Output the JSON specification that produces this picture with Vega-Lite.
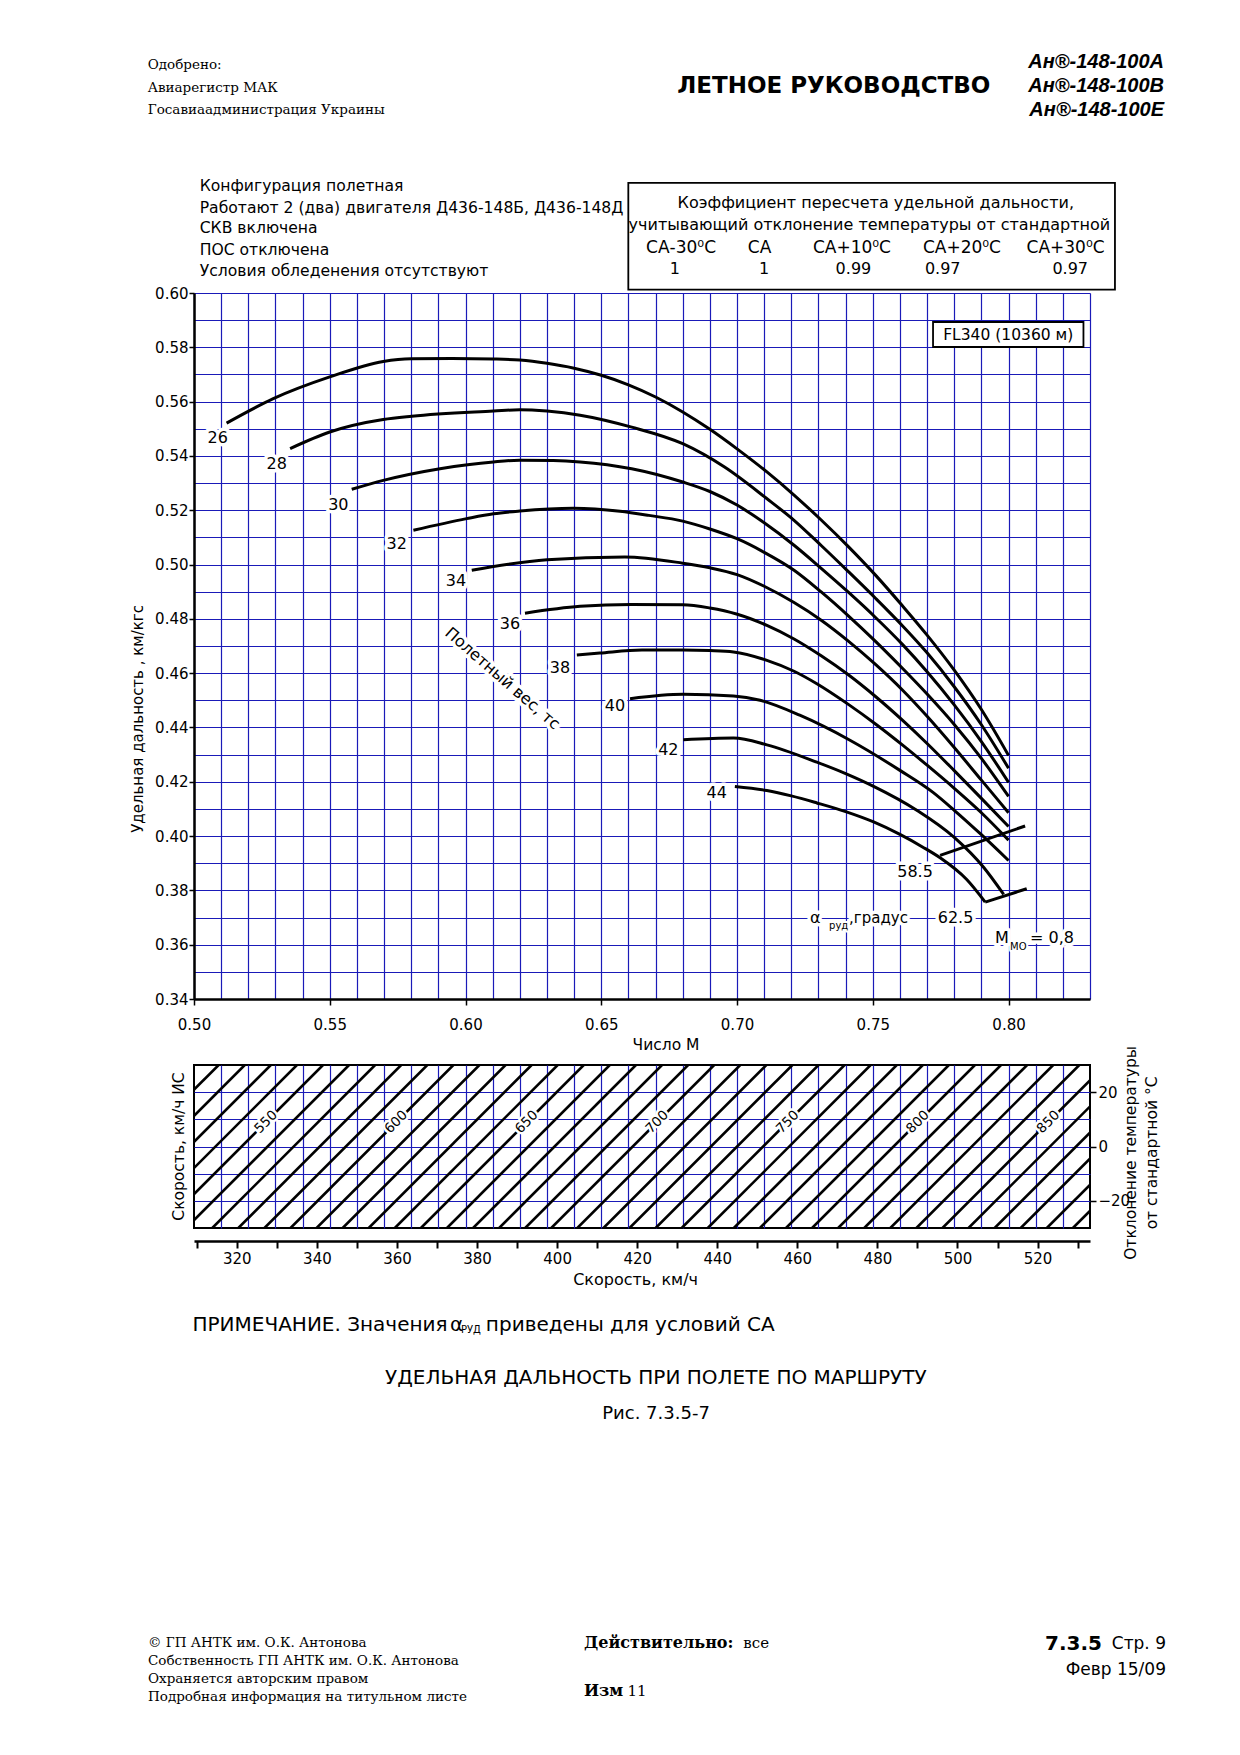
{
"$schema": "https://vega.github.io/schema/vega-lite/v6.json",
"background": "white",
"padding": {"left": 131, "top": 52, "right": 74, "bottom": 50},
"config": {"font": "DejaVu Sans", "view": {"stroke": null}, "axis": {"labelFont": "DejaVu Sans", "labelColor": "black", "domainColor": "black", "tickColor": "black", "gridColor": "#1a1ab8"}},
"spacing": 66,
"bounds": "flush",
"vconcat": [
{
"width": 896, "height": 706,
"layer": [
{
"data": {"values": [
{"w":26,"M":0.512,"v":0.5521},{"w":26,"M":0.5292,"v":0.5611},{"w":26,"M":0.55,"v":0.5691},{"w":26,"M":0.5697,"v":0.5748},{"w":26,"M":0.58,"v":0.5758},{"w":26,"M":0.595,"v":0.5759},{"w":26,"M":0.6103,"v":0.5757},{"w":26,"M":0.62,"v":0.5753},{"w":26,"M":0.63,"v":0.5741},{"w":26,"M":0.64,"v":0.5723},{"w":26,"M":0.65,"v":0.5697},{"w":26,"M":0.66,"v":0.5662},{"w":26,"M":0.67,"v":0.5617},{"w":26,"M":0.68,"v":0.5562},{"w":26,"M":0.69,"v":0.5498},{"w":26,"M":0.7,"v":0.5426},{"w":26,"M":0.711,"v":0.5341},{"w":26,"M":0.721,"v":0.5256},{"w":26,"M":0.731,"v":0.5164},{"w":26,"M":0.741,"v":0.5066},{"w":26,"M":0.751,"v":0.4961},{"w":26,"M":0.761,"v":0.4847},{"w":26,"M":0.77,"v":0.474},{"w":26,"M":0.78,"v":0.4611},{"w":26,"M":0.79,"v":0.4466},{"w":26,"M":0.8,"v":0.4297},
{"w":28,"M":0.5354,"v":0.5427},{"w":28,"M":0.55,"v":0.5488},{"w":28,"M":0.5697,"v":0.5534},{"w":28,"M":0.5802,"v":0.5546},{"w":28,"M":0.6103,"v":0.5565},{"w":28,"M":0.62,"v":0.557},{"w":28,"M":0.63,"v":0.5565},{"w":28,"M":0.6422,"v":0.555},{"w":28,"M":0.6612,"v":0.5506},{"w":28,"M":0.68,"v":0.5445},{"w":28,"M":0.6954,"v":0.5359},{"w":28,"M":0.7107,"v":0.5245},{"w":28,"M":0.721,"v":0.5163},{"w":28,"M":0.731,"v":0.507},{"w":28,"M":0.741,"v":0.4974},{"w":28,"M":0.751,"v":0.4876},{"w":28,"M":0.761,"v":0.4774},{"w":28,"M":0.77,"v":0.4675},{"w":28,"M":0.78,"v":0.455},{"w":28,"M":0.79,"v":0.441},{"w":28,"M":0.8,"v":0.425},
{"w":30,"M":0.5581,"v":0.5277},{"w":30,"M":0.5697,"v":0.531},{"w":30,"M":0.5906,"v":0.5353},{"w":30,"M":0.6103,"v":0.5378},{"w":30,"M":0.62,"v":0.5384},{"w":30,"M":0.6323,"v":0.5383},{"w":30,"M":0.6422,"v":0.5378},{"w":30,"M":0.6612,"v":0.5353},{"w":30,"M":0.68,"v":0.5304},{"w":30,"M":0.69,"v":0.5269},{"w":30,"M":0.7,"v":0.5219},{"w":30,"M":0.71,"v":0.5154},{"w":30,"M":0.721,"v":0.5071},{"w":30,"M":0.731,"v":0.4986},{"w":30,"M":0.741,"v":0.4898},{"w":30,"M":0.751,"v":0.4805},{"w":30,"M":0.761,"v":0.4705},{"w":30,"M":0.77,"v":0.4605},{"w":30,"M":0.78,"v":0.4483},{"w":30,"M":0.79,"v":0.4348},{"w":30,"M":0.8,"v":0.4198},
{"w":32,"M":0.5808,"v":0.5126},{"w":32,"M":0.6004,"v":0.5169},{"w":32,"M":0.6103,"v":0.5187},{"w":32,"M":0.62,"v":0.5197},{"w":32,"M":0.6397,"v":0.5207},{"w":32,"M":0.6569,"v":0.5196},{"w":32,"M":0.6675,"v":0.5181},{"w":32,"M":0.68,"v":0.516},{"w":32,"M":0.69,"v":0.5131},{"w":32,"M":0.7,"v":0.5095},{"w":32,"M":0.71,"v":0.5045},{"w":32,"M":0.721,"v":0.4979},{"w":32,"M":0.731,"v":0.4899},{"w":32,"M":0.741,"v":0.4811},{"w":32,"M":0.751,"v":0.4717},{"w":32,"M":0.761,"v":0.4617},{"w":32,"M":0.77,"v":0.4523},{"w":32,"M":0.78,"v":0.4411},{"w":32,"M":0.79,"v":0.4286},{"w":32,"M":0.8,"v":0.4146},
{"w":34,"M":0.6023,"v":0.4979},{"w":34,"M":0.63,"v":0.5018},{"w":34,"M":0.6587,"v":0.5028},{"w":34,"M":0.68,"v":0.5005},{"w":34,"M":0.69,"v":0.4988},{"w":34,"M":0.7,"v":0.4963},{"w":34,"M":0.71,"v":0.492},{"w":34,"M":0.721,"v":0.486},{"w":34,"M":0.731,"v":0.4795},{"w":34,"M":0.741,"v":0.4718},{"w":34,"M":0.751,"v":0.4632},{"w":34,"M":0.761,"v":0.4537},{"w":34,"M":0.77,"v":0.4441},{"w":34,"M":0.78,"v":0.4326},{"w":34,"M":0.79,"v":0.4206},{"w":34,"M":0.8,"v":0.4086},
{"w":36,"M":0.6219,"v":0.4821},{"w":36,"M":0.6422,"v":0.4846},{"w":36,"M":0.661,"v":0.4853},{"w":36,"M":0.68,"v":0.4852},{"w":36,"M":0.69,"v":0.484},{"w":36,"M":0.6998,"v":0.4818},{"w":36,"M":0.711,"v":0.4776},{"w":36,"M":0.721,"v":0.4726},{"w":36,"M":0.731,"v":0.4664},{"w":36,"M":0.741,"v":0.4594},{"w":36,"M":0.751,"v":0.4514},{"w":36,"M":0.761,"v":0.4426},{"w":36,"M":0.77,"v":0.4341},{"w":36,"M":0.78,"v":0.4241},{"w":36,"M":0.79,"v":0.4139},{"w":36,"M":0.8,"v":0.4035},
{"w":38,"M":0.641,"v":0.4667},{"w":38,"M":0.6495,"v":0.4674},{"w":38,"M":0.665,"v":0.4685},{"w":38,"M":0.68,"v":0.4685},{"w":38,"M":0.69,"v":0.4683},{"w":38,"M":0.6987,"v":0.4678},{"w":38,"M":0.711,"v":0.4647},{"w":38,"M":0.721,"v":0.4607},{"w":38,"M":0.7294,"v":0.4561},{"w":38,"M":0.741,"v":0.4485},{"w":38,"M":0.751,"v":0.4413},{"w":38,"M":0.761,"v":0.4335},{"w":38,"M":0.77,"v":0.4261},{"w":38,"M":0.78,"v":0.4176},{"w":38,"M":0.79,"v":0.4086},{"w":38,"M":0.8,"v":0.3985},
{"w":40,"M":0.6606,"v":0.4506},{"w":40,"M":0.6802,"v":0.4522},{"w":40,"M":0.6987,"v":0.4516},{"w":40,"M":0.7085,"v":0.45},{"w":40,"M":0.7231,"v":0.4445},{"w":40,"M":0.7416,"v":0.4353},{"w":40,"M":0.76,"v":0.4242},{"w":40,"M":0.7723,"v":0.416},{"w":40,"M":0.78,"v":0.4095},{"w":40,"M":0.79,"v":0.4005},{"w":40,"M":0.8,"v":0.391},
{"w":42,"M":0.6802,"v":0.4355},{"w":42,"M":0.6987,"v":0.4361},{"w":42,"M":0.711,"v":0.4336},{"w":42,"M":0.7294,"v":0.4272},{"w":42,"M":0.74,"v":0.423},{"w":42,"M":0.7503,"v":0.4183},{"w":42,"M":0.7662,"v":0.4095},{"w":42,"M":0.78,"v":0.3995},{"w":42,"M":0.7908,"v":0.3885},{"w":42,"M":0.7982,"v":0.3785},
{"w":44,"M":0.6992,"v":0.4183},{"w":44,"M":0.711,"v":0.4168},{"w":44,"M":0.72,"v":0.4148},{"w":44,"M":0.7294,"v":0.4122},{"w":44,"M":0.74,"v":0.409},{"w":44,"M":0.7503,"v":0.4052},{"w":44,"M":0.76,"v":0.4006},{"w":44,"M":0.7683,"v":0.396},{"w":44,"M":0.7748,"v":0.392},{"w":44,"M":0.7846,"v":0.384},{"w":44,"M":0.7914,"v":0.3757}
]},
"mark": {"type": "line", "color": "black", "strokeWidth": 3, "interpolate": "monotone"},
"encoding": {
"x": {"field": "M", "type": "quantitative", "scale": {"domain": [0.5, 0.83], "nice": false, "zero": false},
 "axis": {"values": [0.5,0.51,0.52,0.53,0.54,0.55,0.56,0.57,0.58,0.59,0.6,0.61,0.62,0.63,0.64,0.65,0.66,0.67,0.68,0.69,0.7,0.71,0.72,0.73,0.74,0.75,0.76,0.77,0.78,0.79,0.8,0.81,0.82,0.83], "tickCount": 100,
 "labelExpr": "abs(datum.value*20 - round(datum.value*20)) < 0.001 ? format(datum.value, '.2f') : ''",
 "grid": true, "gridColor": "#1a1ab8", "gridWidth": 1.2,
 "tickOpacity": {"condition": {"test": "abs(datum.value*20 - round(datum.value*20)) < 0.001", "value": 1}, "value": 0},
 "tickSize": 6, "tickWidth": 1.5, "domainWidth": 2.5, "labelFontSize": 15, "labelPadding": 12, "labelFlush": false, "labelOverlap": false, "title": null}},
"y": {"field": "v", "type": "quantitative", "scale": {"domain": [0.34, 0.6], "nice": false, "zero": false},
 "axis": {"values": [0.34,0.35,0.36,0.37,0.38,0.39,0.4,0.41,0.42,0.43,0.44,0.45,0.46,0.47,0.48,0.49,0.5,0.51,0.52,0.53,0.54,0.55,0.56,0.57,0.58,0.59,0.6], "tickCount": 100,
 "labelExpr": "abs(datum.value*50 - round(datum.value*50)) < 0.001 ? format(datum.value, '.2f') : ''",
 "grid": true, "gridColor": "#1a1ab8", "gridWidth": 1.2,
 "tickOpacity": {"condition": {"test": "abs(datum.value*50 - round(datum.value*50)) < 0.001", "value": 1}, "value": 0},
 "tickSize": 5, "tickWidth": 1.5, "domainWidth": 2.5, "labelFontSize": 15, "labelPadding": 1, "labelFlush": false, "labelOverlap": false, "title": null}},
"detail": {"field": "w", "type": "nominal"}
}
},
{
"mark": {"type": "rule", "color": "black", "strokeWidth": 3},
"encoding": {
"x": {"datum": 0.8, "type": "quantitative", "scale": {"domain": [0.5, 0.83], "nice": false, "zero": false}},
"y": {"datum": 0.4401, "type": "quantitative", "scale": {"domain": [0.34, 0.6], "nice": false, "zero": false}},
"y2": {"datum": 0.37}
}
},
{
"data": {"values": [{"a":"58.5","M1":0.7748,"v1":0.3929,"M2":0.8061,"v2":0.4037},{"a":"62.5","M1":0.7914,"v1":0.3757,"M2":0.8067,"v2":0.3806}]},
"mark": {"type": "rule", "color": "black", "strokeWidth": 3},
"encoding": {
"x": {"field": "M1", "type": "quantitative", "scale": {"domain": [0.5, 0.83], "nice": false, "zero": false}},
"y": {"field": "v1", "type": "quantitative", "scale": {"domain": [0.34, 0.6], "nice": false, "zero": false}},
"x2": {"field": "M2"}, "y2": {"field": "v2"}
}
},
{
"data": {"values": [{"box":"coefficients","M1":0.65996,"M2":0.83919,"v1":0.64052,"v2":0.60125},{"box":"FL340","M1":0.77219,"M2":0.82759,"v1":0.58932,"v2":0.58011}]},
"mark": {"type": "rect", "fill": "white", "stroke": "black", "strokeWidth": 1.8},
"encoding": {
"x": {"field": "M1", "type": "quantitative", "scale": {"domain": [0.5, 0.83], "nice": false, "zero": false}},
"x2": {"field": "M2"},
"y": {"field": "v1", "type": "quantitative", "scale": {"domain": [0.34, 0.6], "nice": false, "zero": false}},
"y2": {"field": "v2"}
}
},
{
"data": {"values": [{"t":"26","M":0.50873,"v":0.54659},{"t":"28","M":0.53046,"v":0.53716},{"t":"30","M":0.55315,"v":0.5218},{"t":"32","M":0.57466,"v":0.5077},{"t":"34","M":0.5965,"v":0.49381},{"t":"36","M":0.61639,"v":0.47823},{"t":"38","M":0.63481,"v":0.46203},{"t":"40","M":0.65506,"v":0.44777},{"t":"42","M":0.6747,"v":0.43157},{"t":"44","M":0.69252,"v":0.41584},{"t":"58.5","M":0.76556,"v":0.38674},{"t":"62.5","M":0.78048,"v":0.36969}]},
"layer": [
{"mark": {"type": "text", "fontSize": 16, "fill": "white", "stroke": "white", "strokeWidth": 7, "strokeJoin": "round"}},
{"mark": {"type": "text", "fontSize": 16, "fill": "black"}}
],
"encoding": {
"x": {"field": "M", "type": "quantitative", "scale": {"domain": [0.5, 0.83], "nice": false, "zero": false}},
"y": {"field": "v", "type": "quantitative", "scale": {"domain": [0.34, 0.6], "nice": false, "zero": false}},
"text": {"field": "t"}
}
},
{
"data": {"values": [{"t":"α","M":0.72689,"v":0.36969},{"t":"M","M":0.79503,"v":0.36258},{"t":"= 0,8","M":0.80792,"v":0.36258}]},
"layer": [
{"mark": {"type": "text", "align": "left", "fontSize": 16, "fill": "white", "stroke": "white", "strokeWidth": 7, "strokeJoin": "round"}},
{"mark": {"type": "text", "align": "left", "fontSize": 16, "fill": "black"}}
],
"encoding": {
"x": {"field": "M", "type": "quantitative", "scale": {"domain": [0.5, 0.83], "nice": false, "zero": false}},
"y": {"field": "v", "type": "quantitative", "scale": {"domain": [0.34, 0.6], "nice": false, "zero": false}},
"text": {"field": "t"}
}
},
{
"data": {"values": [{"t":",градус","M":0.74125,"v":0.36969}]},
"layer": [
{"mark": {"type": "text", "align": "left", "fontSize": 15, "fill": "white", "stroke": "white", "strokeWidth": 7, "strokeJoin": "round"}},
{"mark": {"type": "text", "align": "left", "fontSize": 15, "fill": "black"}}
],
"encoding": {
"x": {"field": "M", "type": "quantitative", "scale": {"domain": [0.5, 0.83], "nice": false, "zero": false}},
"y": {"field": "v", "type": "quantitative", "scale": {"domain": [0.34, 0.6], "nice": false, "zero": false}},
"text": {"field": "t"}
}
},
{
"data": {"values": [{"t":"руд","M":0.73389,"v":0.36674},{"t":"МО","M":0.80055,"v":0.35912}]},
"layer": [
{"mark": {"type": "text", "align": "left", "fontSize": 10, "fill": "white", "stroke": "white", "strokeWidth": 4, "strokeJoin": "round"}},
{"mark": {"type": "text", "align": "left", "fontSize": 10, "fill": "black"}}
],
"encoding": {
"x": {"field": "M", "type": "quantitative", "scale": {"domain": [0.5, 0.83], "nice": false, "zero": false}},
"y": {"field": "v", "type": "quantitative", "scale": {"domain": [0.34, 0.6], "nice": false, "zero": false}},
"text": {"field": "t"}
}
},
{
"data": {"values": [{"t":"Полетный вес, тс","M":0.61363,"v":0.45798}]},
"layer": [
{"mark": {"type": "text", "angle": 41, "fontSize": 16, "fill": "white", "stroke": "white", "strokeWidth": 7, "strokeJoin": "round"}},
{"mark": {"type": "text", "angle": 41, "fontSize": 16, "fill": "black"}}
],
"encoding": {
"x": {"field": "M", "type": "quantitative", "scale": {"domain": [0.5, 0.83], "nice": false, "zero": false}},
"y": {"field": "v", "type": "quantitative", "scale": {"domain": [0.34, 0.6], "nice": false, "zero": false}},
"text": {"field": "t"}
}
},
{
"data": {"values": [{"t":"FL340 (10360 м)","M":0.79989,"v":0.58471},{"t":"Число М","M":0.67385,"v":0.32322}]},
"mark": {"type": "text", "fontSize": 15.5, "fill": "black"},
"encoding": {
"x": {"field": "M", "type": "quantitative", "scale": {"domain": [0.5, 0.83], "nice": false, "zero": false}},
"y": {"field": "v", "type": "quantitative", "scale": {"domain": [0.34, 0.6], "nice": false, "zero": false}},
"text": {"field": "t"}
}
},
{
"data": {"values": [{"t":"Удельная  дальность , км/кгс","M":0.47948,"v":0.44313}]},
"mark": {"type": "text", "angle": 270, "fontSize": 15, "fill": "black"},
"encoding": {
"x": {"field": "M", "type": "quantitative", "scale": {"domain": [0.5, 0.83], "nice": false, "zero": false}},
"y": {"field": "v", "type": "quantitative", "scale": {"domain": [0.34, 0.6], "nice": false, "zero": false}},
"text": {"field": "t"}
}
},
{
"data": {"values": [{"t":"Конфигурация  полетная","M":0.5021,"v":0.6393},{"t":"Работают 2 (два) двигателя Д436-148Б,  Д436-148Д","M":0.5021,"v":0.63145},{"t":"СКВ включена","M":0.5021,"v":0.62383},{"t":"ПОС отключена","M":0.5021,"v":0.61573},{"t":"Условия обледенения отсутствуют","M":0.5021,"v":0.6081}]},
"mark": {"type": "text", "align": "left", "fontSize": 15.6, "fill": "black"},
"encoding": {
"x": {"field": "M", "type": "quantitative", "scale": {"domain": [0.5, 0.83], "nice": false, "zero": false}},
"y": {"field": "v", "type": "quantitative", "scale": {"domain": [0.34, 0.6], "nice": false, "zero": false}},
"text": {"field": "t"}
}
},
{
"data": {"values": [{"t":"Коэффициент пересчета удельной дальности,","M":0.75109,"v":0.63315},{"t":"учитывающий отклонение температуры от стандартной","M":0.74873,"v":0.62519},{"t":"1","M":0.67709,"v":0.60873},{"t":"1","M":0.70998,"v":0.60873},{"t":"0.99","M":0.74287,"v":0.60873},{"t":"0.97","M":0.77576,"v":0.60873},{"t":"0.97","M":0.82272,"v":0.60873}]},
"mark": {"type": "text", "fontSize": 16, "fill": "black"},
"encoding": {
"x": {"field": "M", "type": "quantitative", "scale": {"domain": [0.5, 0.83], "nice": false, "zero": false}},
"y": {"field": "v", "type": "quantitative", "scale": {"domain": [0.34, 0.6], "nice": false, "zero": false}},
"text": {"field": "t"}
}
},
{
"data": {"values": [{"t":"СА-30⁰С","M":0.67937,"v":0.61672},{"t":"СА","M":0.70829,"v":0.61672},{"t":"СА+10⁰С","M":0.74232,"v":0.61672},{"t":"СА+20⁰С","M":0.78284,"v":0.61672},{"t":"СА+30⁰С","M":0.82099,"v":0.61672}]},
"mark": {"type": "text", "fontSize": 17, "fill": "black"},
"encoding": {
"x": {"field": "M", "type": "quantitative", "scale": {"domain": [0.5, 0.83], "nice": false, "zero": false}},
"y": {"field": "v", "type": "quantitative", "scale": {"domain": [0.34, 0.6], "nice": false, "zero": false}},
"text": {"field": "t"}
}
},
{
"data": {"values": [{"t":"Одобрено:","M":0.48295,"v":0.68387},{"t":"Авиарегистр МАК","M":0.48295,"v":0.67558},{"t":"Госавиаадминистрация Украины","M":0.48295,"v":0.66729}]},
"mark": {"type": "text", "align": "left", "font": "DejaVu Serif", "fontSize": 13.5, "fill": "black"},
"encoding": {
"x": {"field": "M", "type": "quantitative", "scale": {"domain": [0.5, 0.83], "nice": false, "zero": false}},
"y": {"field": "v", "type": "quantitative", "scale": {"domain": [0.34, 0.6], "nice": false, "zero": false}},
"text": {"field": "t"}
}
},
{
"data": {"values": [{"t":"ЛЕТНОЕ РУКОВОДСТВО","M":0.73562,"v":0.67613}]},
"mark": {"type": "text", "fontSize": 23, "fontWeight": "bold", "fill": "black"},
"encoding": {
"x": {"field": "M", "type": "quantitative", "scale": {"domain": [0.5, 0.83], "nice": false, "zero": false}},
"y": {"field": "v", "type": "quantitative", "scale": {"domain": [0.34, 0.6], "nice": false, "zero": false}},
"text": {"field": "t"}
}
},
{
"data": {"values": [{"t":"Ан®-148-100А","M":0.85727,"v":0.68497},{"t":"Ан®-148-100В","M":0.85727,"v":0.67613},{"t":"Ан®-148-100Е","M":0.85727,"v":0.66729}]},
"mark": {"type": "text", "align": "right", "font": "Liberation Sans", "fontSize": 20, "fontWeight": "bold", "fontStyle": "italic", "fill": "black"},
"encoding": {
"x": {"field": "M", "type": "quantitative", "scale": {"domain": [0.5, 0.83], "nice": false, "zero": false}},
"y": {"field": "v", "type": "quantitative", "scale": {"domain": [0.34, 0.6], "nice": false, "zero": false}},
"text": {"field": "t"}
}
}
]
},
{
"width": 896, "height": 163,
"view": {"stroke": "black", "strokeWidth": 2},
"resolve": {"scale": {"x": "independent"}},
"layer": [
{
"mark": {"type": "rule", "opacity": 0},
"encoding": {
"x": {"datum": 0.6, "type": "quantitative", "scale": {"domain": [0.5, 0.83], "nice": false, "zero": false},
 "axis": {"orient": "top", "values": [0.51,0.52,0.53,0.54,0.55,0.56,0.57,0.58,0.59,0.6,0.61,0.62,0.63,0.64,0.65,0.66,0.67,0.68,0.69,0.7,0.71,0.72,0.73,0.74,0.75,0.76,0.77,0.78,0.79,0.8,0.81,0.82], "tickCount": 100, "grid": true, "gridColor": "#1a1ab8", "gridWidth": 1.2, "labels": false, "ticks": false, "domain": false, "title": null}}
}
},
{
"layer": [
{
"data": {"values": [
{"tas":510,"s":274.78,"T":-30},{"tas":510,"s":315.46,"T":30},
{"tas":520,"s":281.3,"T":-30},{"tas":520,"s":321.98,"T":30},
{"tas":530,"s":287.81,"T":-30},{"tas":530,"s":328.49,"T":30},
{"tas":540,"s":294.33,"T":-30},{"tas":540,"s":335.01,"T":30},
{"tas":550,"s":300.84,"T":-30},{"tas":550,"s":341.52,"T":30},
{"tas":560,"s":307.35,"T":-30},{"tas":560,"s":348.03,"T":30},
{"tas":570,"s":313.87,"T":-30},{"tas":570,"s":354.55,"T":30},
{"tas":580,"s":320.38,"T":-30},{"tas":580,"s":361.06,"T":30},
{"tas":590,"s":326.9,"T":-30},{"tas":590,"s":367.58,"T":30},
{"tas":600,"s":333.41,"T":-30},{"tas":600,"s":374.09,"T":30},
{"tas":610,"s":339.92,"T":-30},{"tas":610,"s":380.6,"T":30},
{"tas":620,"s":346.44,"T":-30},{"tas":620,"s":387.12,"T":30},
{"tas":630,"s":352.95,"T":-30},{"tas":630,"s":393.63,"T":30},
{"tas":640,"s":359.47,"T":-30},{"tas":640,"s":400.15,"T":30},
{"tas":650,"s":365.98,"T":-30},{"tas":650,"s":406.66,"T":30},
{"tas":660,"s":372.49,"T":-30},{"tas":660,"s":413.17,"T":30},
{"tas":670,"s":379.01,"T":-30},{"tas":670,"s":419.69,"T":30},
{"tas":680,"s":385.52,"T":-30},{"tas":680,"s":426.2,"T":30},
{"tas":690,"s":392.04,"T":-30},{"tas":690,"s":432.72,"T":30},
{"tas":700,"s":398.55,"T":-30},{"tas":700,"s":439.23,"T":30},
{"tas":710,"s":405.06,"T":-30},{"tas":710,"s":445.74,"T":30},
{"tas":720,"s":411.58,"T":-30},{"tas":720,"s":452.26,"T":30},
{"tas":730,"s":418.09,"T":-30},{"tas":730,"s":458.77,"T":30},
{"tas":740,"s":424.61,"T":-30},{"tas":740,"s":465.29,"T":30},
{"tas":750,"s":431.12,"T":-30},{"tas":750,"s":471.8,"T":30},
{"tas":760,"s":437.63,"T":-30},{"tas":760,"s":478.31,"T":30},
{"tas":770,"s":444.15,"T":-30},{"tas":770,"s":484.83,"T":30},
{"tas":780,"s":450.66,"T":-30},{"tas":780,"s":491.34,"T":30},
{"tas":790,"s":457.18,"T":-30},{"tas":790,"s":497.86,"T":30},
{"tas":800,"s":463.69,"T":-30},{"tas":800,"s":504.37,"T":30},
{"tas":810,"s":470.2,"T":-30},{"tas":810,"s":510.88,"T":30},
{"tas":820,"s":476.72,"T":-30},{"tas":820,"s":517.4,"T":30},
{"tas":830,"s":483.23,"T":-30},{"tas":830,"s":523.91,"T":30},
{"tas":840,"s":489.75,"T":-30},{"tas":840,"s":530.43,"T":30},
{"tas":850,"s":496.26,"T":-30},{"tas":850,"s":536.94,"T":30},
{"tas":860,"s":502.77,"T":-30},{"tas":860,"s":543.45,"T":30},
{"tas":870,"s":509.29,"T":-30},{"tas":870,"s":549.97,"T":30},
{"tas":880,"s":515.8,"T":-30},{"tas":880,"s":556.48,"T":30},
{"tas":890,"s":522.32,"T":-30},{"tas":890,"s":563.0,"T":30},
{"tas":900,"s":528.83,"T":-30},{"tas":900,"s":569.51,"T":30}
]},
"mark": {"type": "line", "color": "black", "strokeWidth": 2.6, "clip": true},
"encoding": {
"x": {"field": "s", "type": "quantitative", "scale": {"domain": [309.3, 533.1], "nice": false, "zero": false},
 "axis": {"orient": "bottom", "offset": 13, "values": [310,320,330,340,350,360,370,380,390,400,410,420,430,440,450,460,470,480,490,500,510,520,530], "tickCount": 100, "format": "d",
 "labelExpr": "datum.value % 20 == 0 ? datum.label : ''", "tickSize": 7, "tickWidth": 2, "domainWidth": 2.5, "labelFontSize": 15, "labelPadding": 3, "grid": false, "labelFlush": false, "labelOverlap": false, "title": null}},
"y": {"field": "T", "type": "quantitative", "scale": {"domain": [-30, 30], "nice": false, "zero": false},
 "axis": {"orient": "right", "values": [-20,-10,0,10,20], "tickCount": 100, "format": "d", "labelExpr": "datum.value % 20 == 0 ? datum.label : ''", "grid": true, "gridColor": "#1a1ab8", "gridWidth": 1.2,
 "tickOpacity": {"condition": {"test": "datum.value % 20 == 0", "value": 1}, "value": 0}, "tickSize": 6, "tickWidth": 1.5, "domain": false, "labelFontSize": 15, "labelPadding": 2, "title": null}},
"detail": {"field": "tas", "type": "nominal"}
}
},
{
"mark": {"type": "rule", "color": "black", "strokeWidth": 2.5},
"encoding": {"y": {"datum": 0, "type": "quantitative", "scale": {"domain": [-30, 30], "nice": false, "zero": false}}}
},
{
"data": {"values": [{"t":"550","s":327.3,"T":9},{"t":"600","s":359.8,"T":9},{"t":"650","s":392.4,"T":9},{"t":"700","s":425.0,"T":9},{"t":"750","s":457.6,"T":9},{"t":"800","s":490.1,"T":9},{"t":"850","s":522.7,"T":9}]},
"layer": [
{"mark": {"type": "text", "angle": 315, "fontSize": 13.5, "fill": "white", "stroke": "white", "strokeWidth": 5, "strokeJoin": "round"}},
{"mark": {"type": "text", "angle": 315, "fontSize": 13.5, "fill": "black"}}
],
"encoding": {
"x": {"field": "s", "type": "quantitative", "scale": {"domain": [309.3, 533.1], "nice": false, "zero": false}},
"y": {"field": "T", "type": "quantitative", "scale": {"domain": [-30, 30], "nice": false, "zero": false}},
"text": {"field": "t"}
}
},
{
"data": {"values": [{"t":"Скорость, км/ч ИС","s":305.55,"T":0},{"t":"Отклонение температуры","s":543.34,"T":-2.36},{"t":"от стандартной  °С","s":548.6,"T":-2.36}]},
"mark": {"type": "text", "angle": 270, "fontSize": 15.5, "fill": "black"},
"encoding": {
"x": {"field": "s", "type": "quantitative", "scale": {"domain": [309.3, 533.1], "nice": false, "zero": false}},
"y": {"field": "T", "type": "quantitative", "scale": {"domain": [-30, 30], "nice": false, "zero": false}},
"text": {"field": "t"}
}
},
{
"data": {"values": [{"t":"Скорость, км/ч","s":419.6,"T":-49.25}]},
"mark": {"type": "text", "fontSize": 16, "fill": "black"},
"encoding": {
"x": {"field": "s", "type": "quantitative", "scale": {"domain": [309.3, 533.1], "nice": false, "zero": false}},
"y": {"field": "T", "type": "quantitative", "scale": {"domain": [-30, 30], "nice": false, "zero": false}},
"text": {"field": "t"}
}
},
{
"data": {"values": [{"t":"ПРИМЕЧАНИЕ.  Значения","s":308.93,"T":-65.82},{"t":"α","s":373.24,"T":-65.82},{"t":"приведены для условий СА","s":382.2,"T":-65.82}]},
"mark": {"type": "text", "align": "left", "fontSize": 20, "fill": "black"},
"encoding": {
"x": {"field": "s", "type": "quantitative", "scale": {"domain": [309.3, 533.1], "nice": false, "zero": false}},
"y": {"field": "T", "type": "quantitative", "scale": {"domain": [-30, 30], "nice": false, "zero": false}},
"text": {"field": "t"}
}
},
{
"data": {"values": [{"t":"РУД","s":375.96,"T":-67.66}]},
"mark": {"type": "text", "align": "left", "fontSize": 10, "fill": "black"},
"encoding": {
"x": {"field": "s", "type": "quantitative", "scale": {"domain": [309.3, 533.1], "nice": false, "zero": false}},
"y": {"field": "T", "type": "quantitative", "scale": {"domain": [-30, 30], "nice": false, "zero": false}},
"text": {"field": "t"}
}
},
{
"data": {"values": [{"t":"УДЕЛЬНАЯ ДАЛЬНОСТЬ ПРИ ПОЛЕТЕ ПО МАРШРУТУ","s":424.65,"T":-85.18}]},
"mark": {"type": "text", "fontSize": 20, "fill": "black"},
"encoding": {
"x": {"field": "s", "type": "quantitative", "scale": {"domain": [309.3, 533.1], "nice": false, "zero": false}},
"y": {"field": "T", "type": "quantitative", "scale": {"domain": [-30, 30], "nice": false, "zero": false}},
"text": {"field": "t"}
}
},
{
"data": {"values": [{"t":"Рис. 7.3.5-7","s":424.7,"T":-98.39}]},
"mark": {"type": "text", "fontSize": 18, "fill": "black"},
"encoding": {
"x": {"field": "s", "type": "quantitative", "scale": {"domain": [309.3, 533.1], "nice": false, "zero": false}},
"y": {"field": "T", "type": "quantitative", "scale": {"domain": [-30, 30], "nice": false, "zero": false}},
"text": {"field": "t"}
}
},
{
"data": {"values": [{"t":"© ГП АНТК им. О.К. Антонова","s":297.81,"T":-182.61},{"t":"Собственность ГП АНТК им. О.К. Антонова","s":297.81,"T":-189.38},{"t":"Охраняется авторским правом","s":297.81,"T":-196.12},{"t":"Подробная информация на титульном листе","s":297.81,"T":-202.63}]},
"mark": {"type": "text", "align": "left", "font": "DejaVu Serif", "fontSize": 13.5, "fill": "black"},
"encoding": {
"x": {"field": "s", "type": "quantitative", "scale": {"domain": [309.3, 533.1], "nice": false, "zero": false}},
"y": {"field": "T", "type": "quantitative", "scale": {"domain": [-30, 30], "nice": false, "zero": false}},
"text": {"field": "t"}
}
},
{
"data": {"values": [{"t":"все","s":446.5,"T":-182.61},{"t":"11","s":417.58,"T":-200.43}]},
"mark": {"type": "text", "align": "left", "font": "DejaVu Serif", "fontSize": 15, "fill": "black"},
"encoding": {
"x": {"field": "s", "type": "quantitative", "scale": {"domain": [309.3, 533.1], "nice": false, "zero": false}},
"y": {"field": "T", "type": "quantitative", "scale": {"domain": [-30, 30], "nice": false, "zero": false}},
"text": {"field": "t"}
}
},
{
"data": {"values": [{"t":"Действительно:","s":406.71,"T":-182.61},{"t":"Изм","s":406.71,"T":-200.43}]},
"mark": {"type": "text", "align": "left", "font": "DejaVu Serif", "fontSize": 16, "fontWeight": "bold", "fill": "black"},
"encoding": {
"x": {"field": "s", "type": "quantitative", "scale": {"domain": [309.3, 533.1], "nice": false, "zero": false}},
"y": {"field": "T", "type": "quantitative", "scale": {"domain": [-30, 30], "nice": false, "zero": false}},
"text": {"field": "t"}
}
},
{
"data": {"values": [{"t":"7.3.5","s":536.1,"T":-182.98}]},
"mark": {"type": "text", "align": "right", "fontSize": 20, "fontWeight": "bold", "fill": "black"},
"encoding": {
"x": {"field": "s", "type": "quantitative", "scale": {"domain": [309.3, 533.1], "nice": false, "zero": false}},
"y": {"field": "T", "type": "quantitative", "scale": {"domain": [-30, 30], "nice": false, "zero": false}},
"text": {"field": "t"}
}
},
{
"data": {"values": [{"t":"Стр. 9","s":552.08,"T":-182.98},{"t":"Февр 15/09","s":552.08,"T":-192.8}]},
"mark": {"type": "text", "align": "right", "fontSize": 17, "fill": "black"},
"encoding": {
"x": {"field": "s", "type": "quantitative", "scale": {"domain": [309.3, 533.1], "nice": false, "zero": false}},
"y": {"field": "T", "type": "quantitative", "scale": {"domain": [-30, 30], "nice": false, "zero": false}},
"text": {"field": "t"}
}
}
]
}
]
}
]
}
